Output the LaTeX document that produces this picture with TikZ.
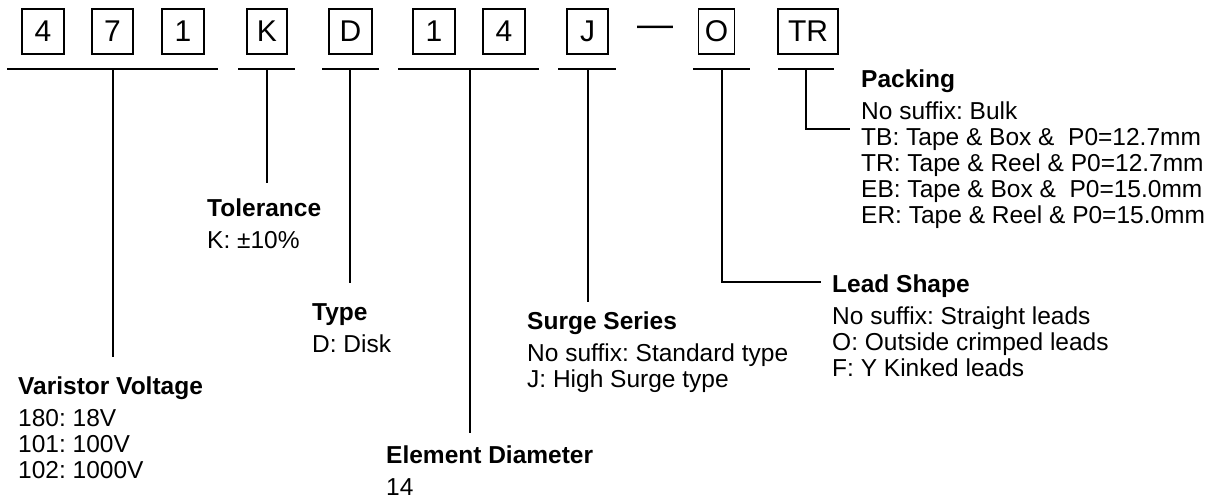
\documentclass[tikz,border=0pt]{standalone}
\usepackage{fontspec}
\setmainfont{Liberation Sans}
\frenchspacing
\begin{document}
\begin{tikzpicture}[x=1pt,y=-1pt,
    codebox/.style={draw, line width=1.3pt, minimum height=45pt, inner sep=0pt, font=\fontsize{30}{32}\selectfont},
    field/.style={anchor=north west, inner sep=0pt, align=left, font=\fontsize{24.5}{26}\selectfont},
    rule/.style={line width=1.3pt}]
    \useasboundingbox (0,0) rectangle (1220,499);

    % Draw the code boxes
    \node[codebox, minimum width=42pt] (c1) at (43,31.5) {4};
    \node[codebox, minimum width=41pt] (c2) at (112.5,31.5) {7};
    \node[codebox, minimum width=42pt] (c3) at (183,31.5) {1};
    \node[codebox, minimum width=40pt] (c4) at (267,31.5) {K};
    \node[codebox, minimum width=43pt] (c5) at (350.5,31.5) {D};
    \node[codebox, minimum width=42pt] (c6) at (434,31.5) {1};
    \node[codebox, minimum width=42pt] (c7) at (504,31.5) {4};
    \node[codebox, minimum width=41pt] (c8) at (587.5,31.5) {J};
    \node[inner sep=0pt, font=\fontsize{36}{36}\selectfont] (dash) at (655,31.5) {—};
    \node[codebox, minimum width=36pt] (c9) at (716.5,31.5) {O};
    \node[codebox, minimum width=60pt] (c10) at (808,31.5) {TR};

    % Draw the underline of each group
    \draw[rule] (7,69) -- (218,69);
    \draw[rule] (238,69) -- (295,69);
    \draw[rule] (322,69) -- (379,69);
    \draw[rule] (398,69) -- (539,69);
    \draw[rule] (558,69) -- (616,69);
    \draw[rule] (693,69) -- (750,69);
    \draw[rule] (778,69) -- (834,69);

    % Start and end of each leader
    \coordinate (g1) at (113,69);   \coordinate (e1) at (113,357);
    \coordinate (g2) at (267,69);   \coordinate (e2) at (267,183);
    \coordinate (g3) at (350,69);   \coordinate (e3) at (350,283);
    \coordinate (g4) at (470,69);   \coordinate (e4) at (470,433);
    \coordinate (g5) at (588,69);   \coordinate (e5) at (588,302);
    \coordinate (g6) at (722,69);   \coordinate (e6) at (821,282);
    \coordinate (g7) at (806,69);   \coordinate (e7) at (850,129);

    % Draw the field descriptions
    \node[field] (volt) at (18,377) {\textbf{Varistor Voltage}\\[6pt]180: 18V\\101: 100V\\102: 1000V};
    \node[field] (tol) at (207,199) {\textbf{Tolerance}\\[6pt]K: ±10\%};
    \node[field] (type) at (312,303) {\textbf{Type}\\[6pt]D: Disk};
    \node[field] (diam) at (386,446) {\textbf{Element Diameter}\\[6pt]14};
    \node[field] (surge) at (527,312) {\textbf{Surge Series}\\[6pt]No suffix: Standard type\\J: High Surge type};
    \node[field] (lead) at (832,275) {\textbf{Lead Shape}\\[6pt]No suffix: Straight leads\\O: Outside crimped leads\\F: Y Kinked leads};
    \node[field] (pack) at (861,70) {\textbf{Packing}\\[6pt]No suffix: Bulk\\TB: Tape \& Box \&~ P0=12.7mm\\TR: Tape \& Reel \& P0=12.7mm\\EB: Tape \& Box \&~ P0=15.0mm\\ER: Tape \& Reel \& P0=15.0mm};

    % Draw the leaders
    \draw[rule] (g1) -- (e1);
    \draw[rule] (g2) -- (e2);
    \draw[rule] (g3) -- (e3);
    \draw[rule] (g4) -- (e4);
    \draw[rule] (g5) -- (e5);
    \draw[rule] (g6) |- (e6);
    \draw[rule] (g7) |- (e7);
\end{tikzpicture}
\end{document}
